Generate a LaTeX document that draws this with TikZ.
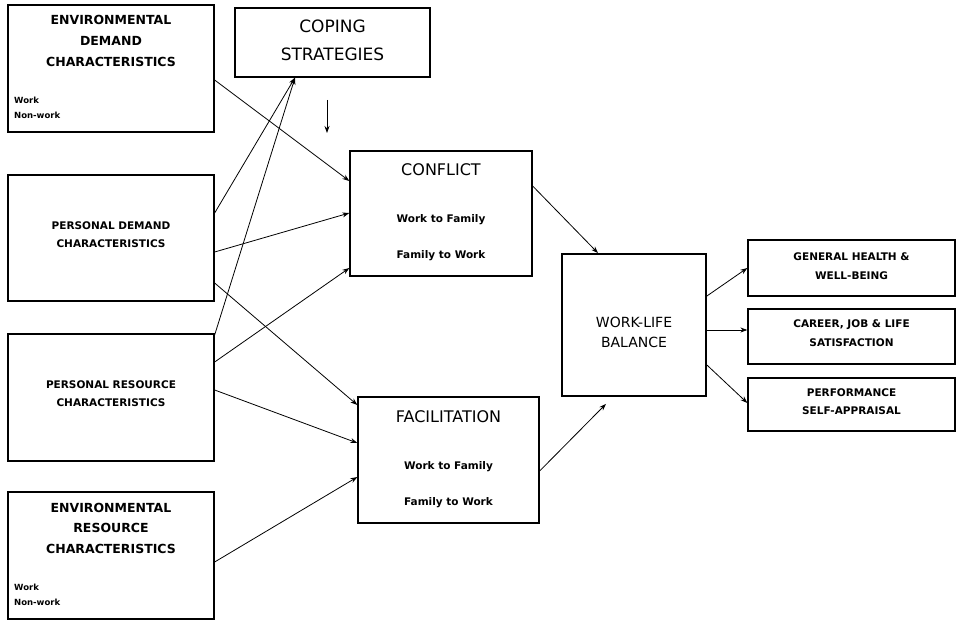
\documentclass[tikz,border=0pt]{standalone}
\usepackage{fontspec}
\setmainfont{DejaVu Sans}
\usetikzlibrary{arrows.meta}
\begin{document}
\begin{tikzpicture}[x=1pt,y=-1pt,
 box/.style={draw,line width=1.3pt,inner sep=0pt},
 big/.style={font=\fontsize{12.5}{14}\selectfont\bfseries,inner sep=0pt},
 sm/.style={font=\fontsize{10.5}{12}\selectfont\bfseries,inner sep=0pt},
 tiny/.style={font=\fontsize{8.5}{10}\selectfont\bfseries,inner sep=0pt,anchor=west},
 ttl/.style={font=\fontsize{16}{18}\selectfont,inner sep=0pt},
 arr/.style={-{Stealth[length=7pt,width=5pt]},line width=0.8pt}]
\useasboundingbox (0,0) rectangle (960,623);
\node[box,minimum width=206pt,minimum height=127pt] (ed) at (111,68.5) {};
\node[box,minimum width=206pt,minimum height=126pt] (pd) at (111,238) {};
\node[box,minimum width=206pt,minimum height=127pt] (pr) at (111,397.5) {};
\node[box,minimum width=206pt,minimum height=127pt] (er) at (111,555.5) {};
\node[box,minimum width=195pt,minimum height=69pt] (cop) at (332.5,42.5) {};
\node[box,minimum width=182pt,minimum height=125pt] (con) at (441,213.5) {};
\node[box,minimum width=181pt,minimum height=126pt] (fac) at (448.5,460) {};
\node[box,line width=1.8pt,minimum width=144pt,minimum height=142pt] (wlb) at (634,325) {};
\node[box,minimum width=207pt,minimum height=56pt] (gh) at (851.5,268) {};
\node[box,minimum width=207pt,minimum height=55pt] (car) at (851.5,336.5) {};
\node[box,minimum width=207pt,minimum height=53pt] (perf) at (851.5,404.5) {};
% texts
\node[big] (t1) at (111,20) {ENVIRONMENTAL};
\node[big] (t2) at (111,41) {DEMAND};
\node[big] (t3) at (111,62) {CHARACTERISTICS};
\node[tiny] (t4) at (14,100) {Work};
\node[tiny] (t5) at (14,115) {Non-work};
\node[sm] (t6) at (111,226) {PERSONAL DEMAND};
\node[sm] (t7) at (111,244) {CHARACTERISTICS};
\node[sm] (t8) at (111,385) {PERSONAL RESOURCE};
\node[sm] (t9) at (111,403) {CHARACTERISTICS};
\node[big] (t10) at (111,508) {ENVIRONMENTAL};
\node[big] (t11) at (111,528) {RESOURCE};
\node[big] (t12) at (111,549) {CHARACTERISTICS};
\node[tiny] (t13) at (14,587) {Work};
\node[tiny] (t14) at (14,602) {Non-work};
\node[ttl,font=\fontsize{17}{19}\selectfont] (t15) at (332.5,26) {COPING};
\node[ttl,font=\fontsize{17}{19}\selectfont] (t16) at (332.5,54) {STRATEGIES};
\node[ttl] (t17) at (441,170) {CONFLICT};
\node[sm] (t18) at (441,220) {Work to Family};
\node[sm] (t19) at (441,256) {Family to Work};
\node[ttl] (t20) at (448.5,417) {FACILITATION};
\node[sm] (t21) at (448.5,467) {Work to Family};
\node[sm] (t22) at (448.5,503) {Family to Work};
\node[ttl,font=\fontsize{14}{16}\selectfont] (t23) at (634,322) {WORK-LIFE};
\node[ttl,font=\fontsize{14}{16}\selectfont] (t24) at (634,342) {BALANCE};
\node[sm] (t25) at (851.5,257) {GENERAL HEALTH \&};
\node[sm] (t26) at (851.5,276) {WELL-BEING};
\node[sm] (t27) at (851.5,325) {CAREER, JOB \& LIFE};
\node[sm] (t28) at (851.5,343) {SATISFACTION};
\node[sm] (t29) at (851.5,393) {PERFORMANCE};
\node[sm] (t30) at (851.5,411) {SELF-APPRAISAL};
% arrows
\draw[arr] ([yshift=-11.5pt]ed.east) -- ([yshift=32.5pt]con.west);
\draw[arr] ([yshift=25pt]pd.east) -- ([xshift=-37.5pt]cop.south);
\draw[arr] ([yshift=-14pt]pd.east) -- ([yshift=0.5pt]con.west);
\draw[arr] ([yshift=-45pt]pd.east) -- ([yshift=55pt]fac.west);
\draw[arr] ([yshift=62.5pt]pr.east) -- ([xshift=-37.5pt]cop.south);
\draw[arr] ([yshift=35.5pt]pr.east) -- ([yshift=-54.5pt]con.west);
\draw[arr] ([yshift=7.5pt]pr.east) -- ([yshift=17pt]fac.west);
\draw[arr] ([yshift=-6.5pt]er.east) -- ([yshift=-17pt]fac.west);
\coordinate (c1) at (327,100);
\coordinate (c2) at (327,133);
\draw[arr] (c1) -- (c2);
\draw[arr] ([yshift=27.5pt]con.east) -- ([xshift=-36pt]wlb.north);
\draw[arr] ([yshift=-11pt]fac.east) -- ([xshift=-28pt,yshift=-7pt]wlb.south);
\draw[arr] ([yshift=29pt]wlb.east) -- (gh.west);
\draw[arr] ([yshift=-5pt]wlb.east) -- ([yshift=6.5pt]car.west);
\draw[arr] ([yshift=-40pt]wlb.east) -- ([yshift=1.5pt]perf.west);
\end{tikzpicture}
\end{document}
